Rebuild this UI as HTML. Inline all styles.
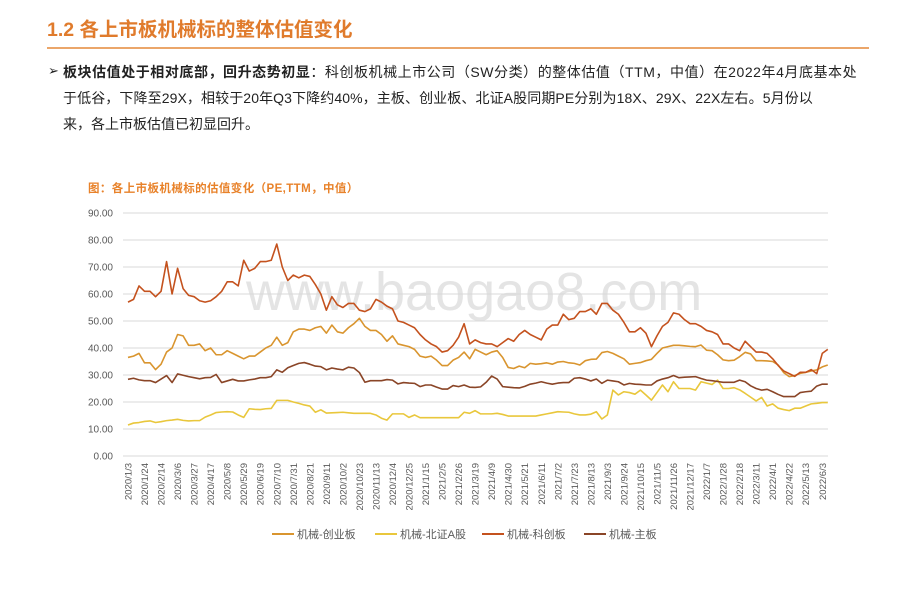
<!DOCTYPE html>
<html><head><meta charset="utf-8">
<style>
body{margin:0;width:920px;height:614px;background:#fff;overflow:hidden;font-family:"Liberation Sans","Noto Sans CJK SC",sans-serif;position:relative}
.h{position:absolute;left:47px;top:13px;font-size:19.5px;font-weight:bold;color:#E07B2C;white-space:nowrap}
.rule{position:absolute;left:47px;top:47px;width:822px;height:2px;background:#EBA66A}
.p{position:absolute;left:63px;font-size:14px;color:#222;white-space:nowrap}
.bul{position:absolute;left:48px;top:63px;font-size:13px;color:#222}
.ct{position:absolute;left:88px;top:180px;font-size:11.5px;font-weight:bold;color:#E8822A;white-space:nowrap;letter-spacing:0.4px}
</style></head><body>
<div class="h">1.2 各上市板机械标的整体估值变化</div>
<div class="rule"></div>
<div class="bul">➢</div>
<div class="p" style="top:62px;letter-spacing:0.55px"><b>板块估值处于相对底部，回升态势初显</b>：科创板机械上市公司（SW分类）的整体估值（TTM，中值）在2022年4月底基本处</div>
<div class="p" style="top:88px;letter-spacing:0.1px">于低谷，下降至29X，相较于20年Q3下降约40%，主板、创业板、北证A股同期PE分别为18X、29X、22X左右。5月份以</div>
<div class="p" style="top:114px">来，各上市板估值已初显回升。</div>
<div class="ct">图：各上市板机械标的估值变化（PE,TTM，中值）</div>
<svg id="chart" width="920" height="614" style="position:absolute;left:0;top:0"></svg>
<script>
const yTicks=["0.00","10.00","20.00","30.00","40.00","50.00","60.00","70.00","80.00","90.00"];
const xLabels=["2020/1/3","2020/1/24","2020/2/14","2020/3/6","2020/3/27","2020/4/17","2020/5/8","2020/5/29","2020/6/19","2020/7/10","2020/7/31","2020/8/21","2020/9/11","2020/10/2","2020/10/23","2020/11/13","2020/12/4","2020/12/25","2021/1/15","2021/2/5","2021/2/26","2021/3/19","2021/4/9","2021/4/30","2021/5/21","2021/6/11","2021/7/2","2021/7/23","2021/8/13","2021/9/3","2021/9/24","2021/10/15","2021/11/5","2021/11/26","2021/12/17","2022/1/7","2022/1/28","2022/2/18","2022/3/11","2022/4/1","2022/4/22","2022/5/13","2022/6/3"];
const seriesNames=["机械-创业板","机械-北证A股","机械-科创板","机械-主板"];
const cyb=[36.5,37,38,34.5,34.5,32,34,38.5,40,45,44.5,41,41,41.5,39,40,37.5,37.5,39,38,37,36,37,37,38.5,40,41,44,41,42,46,47,47,46.5,47.5,48,45.5,48.5,46,45.5,47.5,49,51,48,46.5,46.5,45,42.5,44.5,41.5,41,40.5,39.5,37,36.5,37,35.5,33.5,33.5,35.5,36.5,38.5,36,39.5,38.5,37.5,38.5,39,36.5,32.8,32.4,33.3,32.7,34.3,34,34.2,34.5,34,34.8,35,34.5,34.3,33.7,35.3,35.8,35.9,38.3,38.7,38,37,36,34,34.3,34.6,35.3,35.8,38,40,40.5,41,41,40.8,40.6,40.5,41.1,39.2,39,37.5,35.6,35.3,35.5,36.8,38.4,37.8,35.3,35.3,35.2,35,33.7,30.9,29.4,29.8,30.6,31,31.5,31.9,33,33.7];
const bz=[11.5,12.2,12.4,12.8,13,12.4,12.7,13.1,13.3,13.6,13.2,13,13.1,13.1,14.4,15.2,16.1,16.3,16.4,16.3,15.2,14.3,17.5,17.3,17.2,17.5,17.6,20.6,20.6,20.6,20,19.5,18.9,18.5,16.2,17.1,15.9,16,16.1,16.2,16,15.8,15.8,15.8,15.8,15.2,14,13.3,15.6,15.6,15.6,14.3,15.2,14.2,14.2,14.2,14.2,14.2,14.2,14.2,14.2,16.2,15.8,16.8,15.6,15.6,15.6,15.8,15.4,14.8,14.8,14.8,14.8,14.8,14.8,15.2,15.6,16,16.4,16.3,16.2,15.6,15.2,15.2,15.5,16.4,13.7,15.2,24.4,22.6,23.8,23.5,22.9,24.4,22.6,20.7,23.5,26.3,23.8,27.5,25,25,25,24.4,27.5,27,26.5,28.1,25,25,25.3,24.5,23.2,21.8,20.4,21.7,18.5,19.3,17.7,17.2,16.8,17.7,17.7,18.5,19.3,19.5,19.8,19.8];
const kcb=[57,58,63,61,61,59,61,72,60,69.5,62,59.5,59,57.5,57,57.5,59,61,64.5,64.5,63,72.5,68.5,69.5,72,72,72.5,78.5,70,65,67,66,67,66.5,63.5,60,54,59,56,55,56.5,56.5,54,53.5,54.5,58,57,55.5,54.5,50,49.5,48.5,47.5,45,43,41.5,40.5,38.5,39,41,44,49,41.5,43,42,41.5,41.5,40.5,42,43.5,42.5,45,46.5,45,44,43,47,48.5,48.5,52.5,50.5,51,53.5,53.5,54.5,52.5,56.5,56.5,54,52.5,49.5,46,46,47.5,45.5,40.5,44.5,48,49.5,53,52.5,50.5,49,49,48,46.5,46,45,41.5,41.5,40,39,42.5,40.5,38.5,38.5,38,36,33.5,31.5,30.5,29.5,31,31,32,30.5,38,39.5];
const zb=[28.4,28.8,28.2,27.9,27.9,27.2,28.5,29.8,27.2,30.4,29.9,29.4,29,28.6,29,29.1,30.2,27.2,27.8,28.4,27.8,27.8,28.2,28.5,29,29,29.4,31.9,31,32.7,33.5,34.3,34.6,34,33.3,33.1,31.9,32.6,32.2,31.9,32.9,32.6,30.9,27.3,27.9,27.9,27.9,28.3,28.1,26.7,27.2,27,26.9,25.7,26.3,26.3,25.5,24.8,24.8,26.1,25.7,26.3,25.5,25.4,25.6,27.3,29.6,28.5,25.7,25.5,25.3,25.2,25.8,26.6,27,27.5,27,26.6,27,27.2,27.2,28.8,29,28.5,27.8,28.5,26.9,28.1,27.8,27.5,26.3,26.9,26.6,26.5,26.3,26.3,27.8,28.5,29,29.8,29,29.2,29.3,29.4,28.7,28.1,27.9,27.6,27.3,27.3,27.3,28.1,27.5,26,25,24.4,24.7,23.8,22.8,22,22,22,23.5,23.8,24,25.9,26.6,26.6];
const colors=["#D9952F","#E9C73C","#C4521E","#8A4527"];
const NS="http://www.w3.org/2000/svg";
const svg=document.getElementById('chart');
const X0=128,STEP=5.51,Y0=456,YMAX=90,YTOP=213;
const xs=i=>X0+i*STEP;
const ys=v=>Y0-(v/YMAX)*(Y0-YTOP);
function mk(t,a){const e=document.createElementNS(NS,t);for(const k in a)e.setAttribute(k,a[k]);svg.appendChild(e);return e;}
let wm=mk('text',{x:246,y:310,'font-size':54,fill:'#e4e4e4','font-family':'Liberation Sans, sans-serif'});


wm.textContent='www.baogao8.com';
yTicks.forEach((t,k)=>{
 const v=parseFloat(t),y=ys(v);
 const g=mk('line',{x1:123,x2:828,y1:y,y2:y,stroke:'#d9d9d9','stroke-width':1});
 
 
 const l=mk('text',{x:113,y:y+3.5,'text-anchor':'end','font-size':10,fill:'#595959'});
 
 
 l.textContent=t;
});
xLabels.forEach((t,k)=>{
 const x=xs(k*3)+3.5;
 const l=mk('text',{x:0,y:0,'text-anchor':'end','font-size':9.5,fill:'#595959',transform:`translate(${x},463) rotate(-90)`});
 
 
 l.textContent=t;
});
[cyb,bz,kcb,zb].forEach((arr,s)=>{
 const p=mk('polyline',{points:arr.map((v,i)=>xs(i)+','+ys(v)).join(' '),fill:'none',stroke:colors[s],'stroke-width':1.6,'stroke-linejoin':'round'});
 
 
});
const lx=[272,375,482,584];
seriesNames.forEach((n,s)=>{
 const ln=mk('line',{x1:lx[s],x2:lx[s]+22,y1:534,y2:534,stroke:colors[s],'stroke-width':2});
 
 
 const t=mk('text',{x:lx[s]+25,y:538,'font-size':11,fill:'#595959'});
 
 
 t.textContent=n;
});
</script>
</body></html>
